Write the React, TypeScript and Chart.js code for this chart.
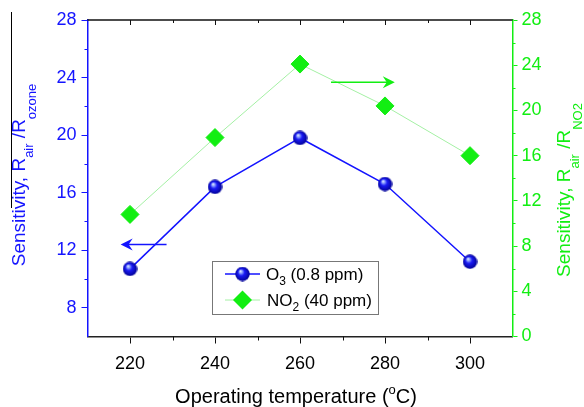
import React, { useEffect, useRef } from 'react';
import { Chart, registerables } from 'chart.js';

Chart.register(...registerables);

// ---- data ----
const temperatures = [220, 240, 260, 280, 300];
const o3Sensitivity = [10.7, 16.4, 19.8, 16.6, 11.2];
const no2Sensitivity = [10.8, 17.6, 24.1, 20.4, 16.0];

const xTickValues = [220, 240, 260, 280, 300];
const xMinorValues = [230, 250, 270, 290];
const leftTickValues = [8, 12, 16, 20, 24, 28];
const leftMinorValues = [10, 14, 18, 22, 26];
const rightTickValues = [0, 4, 8, 12, 16, 20, 24, 28];
const rightMinorValues = [2, 6, 10, 14, 18, 22, 26];

// arrows: [x from, x to, y]
const o3Arrow = [228.6, 217.8, 12.4];
const no2Arrow = [267.3, 282.3, 22.5];

const BLUE = '#1414ff';
const GREEN = '#12ee12';
const LIGHT_GREEN = '#a4f0a4';
const FONT = '"Liberation Sans", Arial, sans-serif';

type Part = { t: string; size: number; dy: number };

function drawRich(ctx: CanvasRenderingContext2D, parts: Part[], x: number, y: number, center: boolean, color: string) {
  ctx.save();
  ctx.fillStyle = color;
  ctx.textBaseline = 'alphabetic';
  ctx.textAlign = 'left';
  let w = 0;
  for (const p of parts) {
    ctx.font = `${p.size}px ${FONT}`;
    w += ctx.measureText(p.t).width;
  }
  let cx = center ? x - w / 2 : x;
  for (const p of parts) {
    ctx.font = `${p.size}px ${FONT}`;
    ctx.fillText(p.t, cx, y + p.dy);
    cx += ctx.measureText(p.t).width;
  }
  ctx.restore();
}

function makeSphere(d: number) {
  const c = document.createElement('canvas');
  c.width = d;
  c.height = d;
  const g = c.getContext('2d')!;
  const r = d / 2;
  const grad = g.createRadialGradient(r * 0.72, r * 0.6, 0, r, r, r);
  grad.addColorStop(0, '#f4f8ff');
  grad.addColorStop(0.18, '#9ab0ff');
  grad.addColorStop(0.45, '#1a1af4');
  grad.addColorStop(1, '#000090');
  g.fillStyle = grad;
  g.beginPath();
  g.arc(r, r, r - 0.3, 0, Math.PI * 2);
  g.fill();
  return c;
}

function drawArrow(ctx: CanvasRenderingContext2D, x1: number, y1: number, x2: number, y: number, color: string) {
  const dir = Math.sign(x2 - x1);
  ctx.save();
  ctx.strokeStyle = color;
  ctx.fillStyle = color;
  ctx.lineWidth = 1.5;
  ctx.beginPath();
  ctx.moveTo(x1, y1);
  ctx.lineTo(x2 - dir * 4, y);
  ctx.stroke();
  ctx.beginPath();
  ctx.moveTo(x2, y);
  ctx.lineTo(x2 - dir * 12, y - 6);
  ctx.lineTo(x2 - dir * 8, y);
  ctx.lineTo(x2 - dir * 12, y + 6);
  ctx.closePath();
  ctx.fill();
  ctx.restore();
}

function drawDiamond(ctx: CanvasRenderingContext2D, x: number, y: number, r: number, color: string) {
  ctx.save();
  ctx.fillStyle = color;
  ctx.beginPath();
  ctx.moveTo(x - r, y);
  ctx.lineTo(x, y - r);
  ctx.lineTo(x + r, y);
  ctx.lineTo(x, y + r);
  ctx.closePath();
  ctx.fill();
  ctx.restore();
}

export default function App() {
  const ref = useRef<HTMLCanvasElement>(null);

  useEffect(() => {
    document.body.style.margin = '0';
    const sphere = makeSphere(15);

    const decor = {
      id: 'decor',
      afterDraw(chart: any) {
        const ctx: CanvasRenderingContext2D = chart.ctx;
        const { left, right, top, bottom } = chart.chartArea;
        const sx = chart.scales.x;
        const sy = chart.scales.y;
        const sy2 = chart.scales.y2;

        ctx.save();
        // top frame line with inward ticks
        ctx.strokeStyle = '#111';
        ctx.lineWidth = 1.5;
        ctx.beginPath();
        ctx.moveTo(left, top);
        ctx.lineTo(right, top);
        ctx.stroke();
        ctx.lineWidth = 1;
        ctx.beginPath();
        for (const v of xTickValues) {
          const px = Math.round(sx.getPixelForValue(v)) + 0.5;
          ctx.moveTo(px, top);
          ctx.lineTo(px, top + 5);
        }
        for (const v of xMinorValues) {
          const px = Math.round(sx.getPixelForValue(v)) + 0.5;
          ctx.moveTo(px, top);
          ctx.lineTo(px, top + 3);
        }
        ctx.stroke();
        // bottom minor ticks
        ctx.beginPath();
        for (const v of xMinorValues) {
          const px = Math.round(sx.getPixelForValue(v)) + 0.5;
          ctx.moveTo(px, bottom);
          ctx.lineTo(px, bottom + 4);
        }
        ctx.stroke();
        // left minor ticks
        ctx.strokeStyle = BLUE;
        ctx.beginPath();
        for (const v of leftMinorValues) {
          const py = Math.round(sy.getPixelForValue(v)) + 0.5;
          ctx.moveTo(left, py);
          ctx.lineTo(left - 3, py);
        }
        ctx.stroke();
        // right minor ticks
        ctx.strokeStyle = GREEN;
        ctx.beginPath();
        for (const v of rightMinorValues) {
          const py = Math.round(sy2.getPixelForValue(v)) + 0.5;
          ctx.moveTo(right, py);
          ctx.lineTo(right + 3, py);
        }
        ctx.stroke();

        // stray vertical line at the far left
        ctx.strokeStyle = '#000';
        ctx.lineWidth = 1;
        ctx.beginPath();
        ctx.moveTo(11.5, 12);
        ctx.lineTo(11.5, 208);
        ctx.stroke();
        ctx.restore();

        // arrows
        drawArrow(ctx, sx.getPixelForValue(o3Arrow[0]), sy.getPixelForValue(o3Arrow[2]), sx.getPixelForValue(o3Arrow[1]), sy.getPixelForValue(o3Arrow[2]), BLUE);
        drawArrow(ctx, sx.getPixelForValue(no2Arrow[0]), sy2.getPixelForValue(no2Arrow[2]), sx.getPixelForValue(no2Arrow[1]), sy2.getPixelForValue(no2Arrow[2]), GREEN);

        // legend
        ctx.save();
        ctx.strokeStyle = '#777';
        ctx.lineWidth = 1;
        ctx.strokeRect(212.5, 261.5, 166, 53);
        ctx.strokeStyle = BLUE;
        ctx.lineWidth = 1.5;
        ctx.beginPath();
        ctx.moveTo(225, 274);
        ctx.lineTo(260, 274);
        ctx.stroke();
        ctx.strokeStyle = LIGHT_GREEN;
        ctx.lineWidth = 1;
        ctx.beginPath();
        ctx.moveTo(225, 300);
        ctx.lineTo(260, 300);
        ctx.stroke();
        ctx.restore();
        ctx.drawImage(sphere, 242.5 - 7.5, 274 - 7.5);
        drawDiamond(ctx, 242.5, 300, 9.5, GREEN);
        drawRich(ctx, [
          { t: 'O', size: 17, dy: 0 },
          { t: '3', size: 12, dy: 5 },
          { t: ' (0.8 ppm)', size: 17, dy: 0 },
        ], 266, 280, false, '#000');
        drawRich(ctx, [
          { t: 'NO', size: 17, dy: 0 },
          { t: '2', size: 12, dy: 5 },
          { t: ' (40 ppm)', size: 17, dy: 0 },
        ], 267, 306, false, '#000');

        // axis titles
        drawRich(ctx, [
          { t: 'Operating temperature (', size: 20, dy: 0 },
          { t: 'o', size: 13, dy: -9 },
          { t: 'C)', size: 20, dy: 0 },
        ], 296, 403, true, '#000');

        ctx.save();
        ctx.translate(25, 175);
        ctx.rotate(-Math.PI / 2);
        drawRich(ctx, [
          { t: 'Sensitivity, R', size: 19, dy: 0 },
          { t: 'air', size: 13, dy: 8 },
          { t: ' /R', size: 19, dy: 0 },
          { t: 'ozone', size: 13, dy: 11 },
        ], 0, 0, true, BLUE);
        ctx.restore();

        ctx.save();
        ctx.translate(570, 190);
        ctx.rotate(-Math.PI / 2);
        drawRich(ctx, [
          { t: 'Sensitivity, R', size: 19, dy: 0 },
          { t: 'air', size: 13, dy: 9 },
          { t: ' /R', size: 19, dy: 0 },
          { t: 'NO2', size: 13, dy: 12 },
        ], 0, 0, true, GREEN);
        ctx.restore();
      },
    };

    const chart = new Chart(ref.current!, {
      type: 'line',
      data: {
        datasets: [
          {
            label: 'O3 (0.8 ppm)',
            data: temperatures.map((t, i) => ({ x: t, y: o3Sensitivity[i] })),
            yAxisID: 'y',
            borderColor: BLUE,
            borderWidth: 1.5,
            pointStyle: sphere as any,
            pointRadius: 7.5,
            pointBackgroundColor: BLUE,
            pointBorderColor: BLUE,
          },
          {
            label: 'NO2 (40 ppm)',
            data: temperatures.map((t, i) => ({ x: t, y: no2Sensitivity[i] })),
            yAxisID: 'y2',
            borderColor: LIGHT_GREEN,
            borderWidth: 1,
            pointStyle: 'rectRot',
            pointRadius: 9,
            pointBackgroundColor: GREEN,
            pointBorderColor: GREEN,
            pointBorderWidth: 1,
          },
        ],
      },
      options: {
        responsive: false,
        animation: false,
        events: [],
        layout: { padding: { top: 20, left: 0, right: 0, bottom: 0 } },
        plugins: { legend: { display: false }, tooltip: { enabled: false } },
        scales: {
          x: {
            type: 'linear',
            position: 'bottom',
            min: 210,
            max: 310,
            afterBuildTicks: (s: any) => {
              s.ticks = xTickValues.map((v) => ({ value: v }));
            },
            afterFit: (s: any) => {
              s.height = 70.5;
            },
            ticks: { color: '#000', font: { size: 18, family: FONT }, padding: 10, maxRotation: 0 },
            grid: { display: true, drawOnChartArea: false, drawTicks: true, tickLength: 7, color: '#111', lineWidth: 1 },
            border: { display: true, color: '#222', width: 1.5 },
          },
          y: {
            type: 'linear',
            position: 'left',
            min: 6,
            max: 28,
            afterBuildTicks: (s: any) => {
              s.ticks = leftTickValues.map((v) => ({ value: v }));
            },
            afterFit: (s: any) => {
              s.width = 87.5;
            },
            ticks: { color: BLUE, font: { size: 18, family: FONT }, padding: 5 },
            grid: { display: true, drawOnChartArea: false, drawTicks: true, tickLength: 6, color: BLUE, lineWidth: 1 },
            border: { display: true, color: BLUE, width: 1.5 },
          },
          y2: {
            type: 'linear',
            position: 'right',
            min: 0,
            max: 28,
            afterBuildTicks: (s: any) => {
              s.ticks = rightTickValues.map((v) => ({ value: v }));
            },
            afterFit: (s: any) => {
              s.width = 71.5;
            },
            ticks: { color: GREEN, font: { size: 18, family: FONT }, padding: 4 },
            grid: { display: true, drawOnChartArea: false, drawTicks: true, tickLength: 5, color: GREEN, lineWidth: 1 },
            border: { display: true, color: GREEN, width: 1.5 },
          },
        },
      } as any,
      plugins: [decor],
    });
    return () => chart.destroy();
  }, []);

  return (
    <div style={{ width: 584, height: 407 }}>
      <canvas ref={ref} width={584} height={407} style={{ display: 'block' }} />
    </div>
  );
}
